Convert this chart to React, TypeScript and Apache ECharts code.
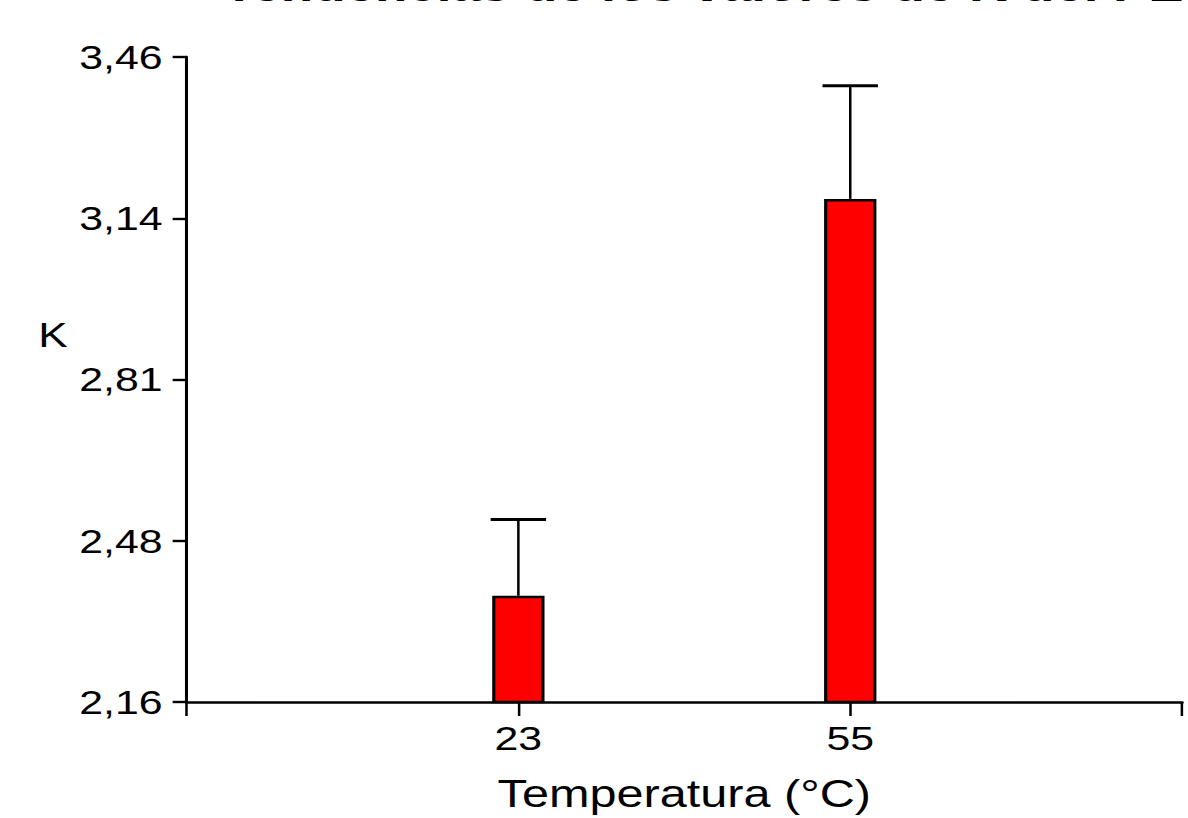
import React, { useEffect, useRef } from "react";
import * as echarts from "echarts";

// Temperatures (°C) and the mean K with its standard deviation
const temperatures = ["23", "55"];
const kMeans = [2.374, 3.174];
const kErrors = [0.154, 0.228];

// Y axis range and tick labels (decimal comma)
const yMin = 2.16;
const yMax = 3.46;
const yStep = 0.325;
const yTickLabels = ["2,16", "2,48", "2,81", "3,14", "3,46"];

const titleText = "Tendencias de los valores de K del PET";

// The figure is drawn on a narrower canvas and widened horizontally
const PAGE_W = 1188;
const PAGE_H = 818;
const STRETCH = 1.26;
const CHART_W = PAGE_W / STRETCH;

const FONT = "'Liberation Sans', Arial, sans-serif";

export default function App() {
  const ref = useRef<HTMLDivElement>(null);

  useEffect(() => {
    document.body.style.margin = "0";
    if (!ref.current) return;
    const chart = echarts.init(ref.current, undefined, { renderer: "svg" });

    // pad the category axis with empty slots at both ends
    const axisCats = ["", ...temperatures, ""];
    const barData = [null, ...kMeans, null];
    const errData = temperatures.map((t, i) => [i + 1, kMeans[i], kMeans[i] + kErrors[i]]);

    const option: any = {
      animation: false,
      backgroundColor: "#ffffff",
      textStyle: { fontFamily: FONT, color: "#000" },
      grid: {
        left: 148,
        right: 4.8,
        top: 57,
        bottom: PAGE_H - 703,
        containLabel: false,
      },
      graphic: [
        {
          type: "text",
          left: 177,
          top: -35,
          style: {
            text: titleText,
            font: `bold 42px ${FONT}`,
            fill: "#000",
          },
        },
        {
          // y axis title, set above the middle of the axis
          type: "text",
          x: 42,
          y: 335,
          style: {
            text: "K",
            font: `35px ${FONT}`,
            fill: "#000",
            align: "center",
            verticalAlign: "middle",
          },
        },
      ],
      xAxis: {
        type: "category",
        data: axisCats,
        boundaryGap: false,
        name: "Temperatura (°C)",
        nameLocation: "middle",
        nameGap: 72,
        nameTextStyle: { fontSize: 38.6, color: "#000", fontFamily: FONT },
        axisLine: { lineStyle: { color: "#000", width: 2.6 } },
        axisTick: {
          show: true,
          length: 14,
          alignWithLabel: true,
          lineStyle: { color: "#000", width: 2 },
        },
        axisLabel: {
          show: true,
          interval: 0,
          margin: 19,
          fontSize: 34,
          color: "#000",
          fontFamily: FONT,
        },
        splitLine: { show: false },
      },
      yAxis: {
        type: "value",
        min: yMin,
        max: yMax,
        interval: yStep,
        axisLine: { show: true, lineStyle: { color: "#000", width: 2.4 } },
        axisTick: { show: true, length: 11, lineStyle: { color: "#000", width: 2.4 } },
        axisLabel: {
          margin: 19,
          fontSize: 34,
          color: "#000",
          fontFamily: FONT,
          formatter: (_v: number, i: number) => yTickLabels[i] ?? "",
        },
        splitLine: { show: false },
      },
      series: [
        {
          type: "bar",
          data: barData,
          barWidth: 41.5,
          itemStyle: { color: "#ff0000", borderColor: "#000", borderWidth: 2.5 },
          z: 3,
        },
        {
          type: "custom",
          data: errData,
          z: 2,
          renderItem: (_params: any, api: any) => {
            const x = api.value(0);
            const lo = api.coord([x, api.value(1)]);
            const hi = api.coord([x, api.value(2)]);
            const half = 22;
            return {
              type: "group",
              children: [
                {
                  type: "line",
                  shape: { x1: lo[0], y1: lo[1], x2: hi[0], y2: hi[1] },
                  style: { stroke: "#000", lineWidth: 2 },
                },
                {
                  type: "line",
                  shape: { x1: hi[0] - half, y1: hi[1], x2: hi[0] + half, y2: hi[1] },
                  style: { stroke: "#000", lineWidth: 3 },
                },
              ],
            };
          },
        },
      ],
    };

    chart.setOption(option);
    return () => chart.dispose();
  }, []);

  return (
    <div style={{ width: PAGE_W, height: PAGE_H, overflow: "hidden", background: "#fff" }}>
      <div
        ref={ref}
        style={{
          width: CHART_W,
          height: PAGE_H,
          transform: `scaleX(${STRETCH})`,
          transformOrigin: "0 0",
        }}
      />
    </div>
  );
}
